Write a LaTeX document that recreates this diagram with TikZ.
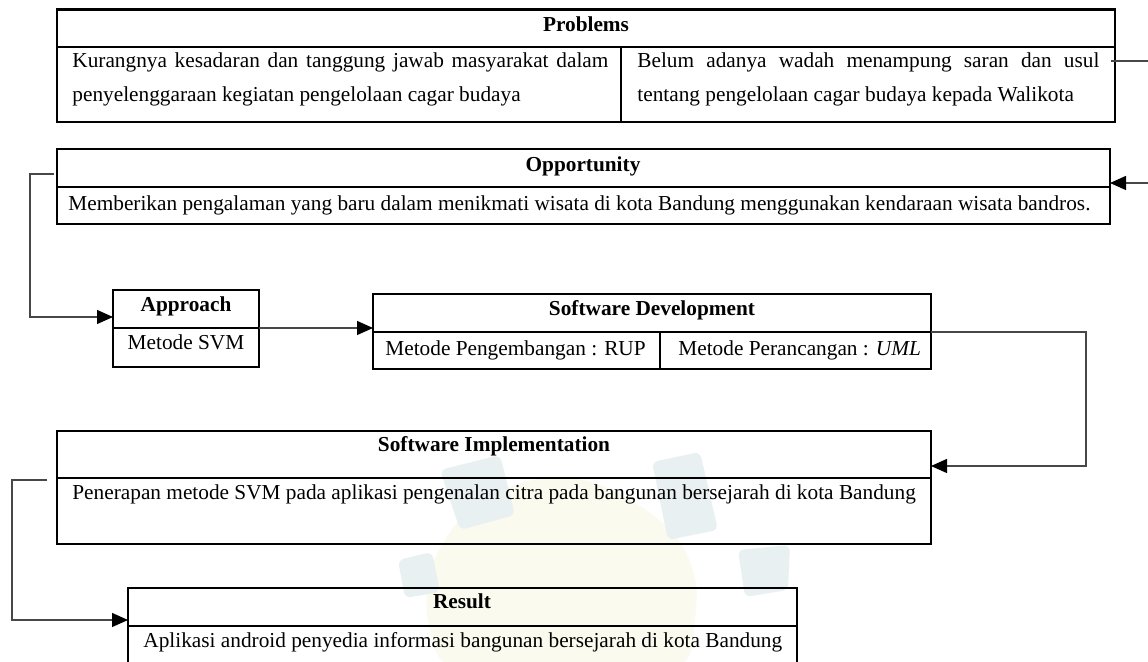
\documentclass[tikz,border=0pt]{standalone}
\usepackage{fontspec}
\setmainfont{Liberation Serif}
\usetikzlibrary{arrows.meta,fit}
\definecolor{wmblue}{HTML}{E9F0F2}
\definecolor{wmgreen}{HTML}{FAFBEE}
\begin{document}
\begin{tikzpicture}[x=0.5pt,y=-0.5pt,
  frame/.style={draw=black, line width=1.3pt, inner sep=0pt, outer sep=0pt},
  rule/.style={draw=black, line width=1.3pt},
  conn/.style={draw=black!72, line width=0.65pt},
  tip/.style={-{Triangle[length=8pt,width=7pt,color=black]}},
  txt/.style={inner sep=0pt, font=\fontsize{10.65}{12}\selectfont},
  head/.style={inner sep=0pt, font=\fontsize{10.65}{12}\selectfont\bfseries},
]
\useasboundingbox (0,0) rectangle (1148,662);

% faint emblem in the background
\begin{scope}
\clip (0,0) rectangle (1148,662);
\fill[wmgreen, rounded corners=20pt] (470,500) -- (560,470) -- (640,500) -- (700,560) -- (690,680) -- (440,680) -- (420,580) -- cycle;
\fill[wmblue, rounded corners=3pt] (398,560) -- (432,552) -- (440,592) -- (405,598) -- cycle;
\fill[wmblue, rounded corners=3pt] (440,470) -- (500,455) -- (515,515) -- (460,530) -- cycle;
\fill[wmblue, rounded corners=3pt] (652,462) -- (700,452) -- (718,530) -- (668,540) -- cycle;
\fill[wmblue, rounded corners=3pt] (738,550) -- (790,545) -- (788,590) -- (745,597) -- cycle;
\end{scope}

% Problems
\node[frame, fit={(57,9.5) (1115,122)}] (prob) {};
\draw[rule] (57,47) -- (1115,47);
\draw[rule] (621,47) -- (621,122);
\node[head, anchor=base] (probT) at (586,32) {Problems};
\node[txt, anchor=base west] (probA1) at (72,68) {\makebox[268pt][s]{Kurangnya kesadaran dan tanggung jawab masyarakat dalam}};
\node[txt, anchor=base west] (probA2) at (72,102) {penyelenggaraan kegiatan pengelolaan cagar budaya};
\node[txt, anchor=base west] (probB1) at (637,68) {\makebox[231pt][s]{Belum adanya wadah menampung saran dan usul}};
\node[txt, anchor=base west] (probB2) at (637,102) {tentang pengelolaan cagar budaya kepada Walikota};

% Opportunity
\node[frame, fit={(57,149) (1110,224)}] (opp) {};
\draw[rule] (57,187) -- (1110,187);
\node[head, anchor=base] (oppT) at (583,172) {Opportunity};
\node[txt, anchor=base west] (oppB) at (68,211) {Memberikan pengalaman yang baru dalam menikmati wisata di kota Bandung menggunakan kendaraan wisata bandros.};

% Approach
\node[frame, fit={(113,290) (259,367)}] (appr) {};
\draw[rule] (113,328) -- (259,328);
\node[head, anchor=base] (apprT) at (186,312) {Approach};
\node[txt, anchor=base] (apprB) at (186,350) {Metode SVM};

% Software Development
\node[frame, fit={(373,294) (931,369)}] (sdev) {};
\draw[rule] (373,332) -- (931,332);
\draw[rule] (660,332) -- (660,369);
\node[head, anchor=base] (sdevT) at (652,316) {Software Development};
\node[txt, anchor=base west] (sdevA) at (385,356) {Metode Pengembangan : RUP};
\node[txt, anchor=base west] (sdevB) at (678,356) {Metode Perancangan : \textit{UML}};

% Software Implementation
\node[frame, fit={(57,431) (931,544)}] (simp) {};
\draw[rule] (57,478) -- (931,478);
\node[head, anchor=base] (simpT) at (494,452) {Software Implementation};
\node[txt, anchor=base west] (simpB) at (72,500) {Penerapan metode SVM pada aplikasi pengenalan citra pada bangunan bersejarah di kota Bandung};

% Result (runs past the lower edge)
\begin{scope}
\clip (0,0) rectangle (1148,662);
\node[frame, fit={(128,588) (797,700)}] (res) {};
\draw[rule] (128,626) -- (797,626);
\end{scope}
\node[head, anchor=base] (resT) at (462,609) {Result};
\node[txt, anchor=base west] (resB) at (143,648) {Aplikasi android penyedia informasi bangunan bersejarah di kota Bandung};

% free ends at the right margin
\coordinate (outP) at (1148,61);
\coordinate (inO) at (1148,183);

% connectors
\draw[conn] (1111,61) -- (outP);
\draw[conn, tip] (inO) -- (opp.east |- inO);
\draw[conn, tip] (54,174) -- (30,174) |- (appr.west |- 0,317);
\draw[conn, tip] (appr.east |- 0,328) -- (sdev.west |- 0,328);
\draw[conn, tip] (sdev.east |- 0,332) -- (1086,332) |- (simp.east |- 0,466);
\draw[conn, tip] (47,480) -- (12,480) |- (res.west |- 0,620);
\end{tikzpicture}
\end{document}
